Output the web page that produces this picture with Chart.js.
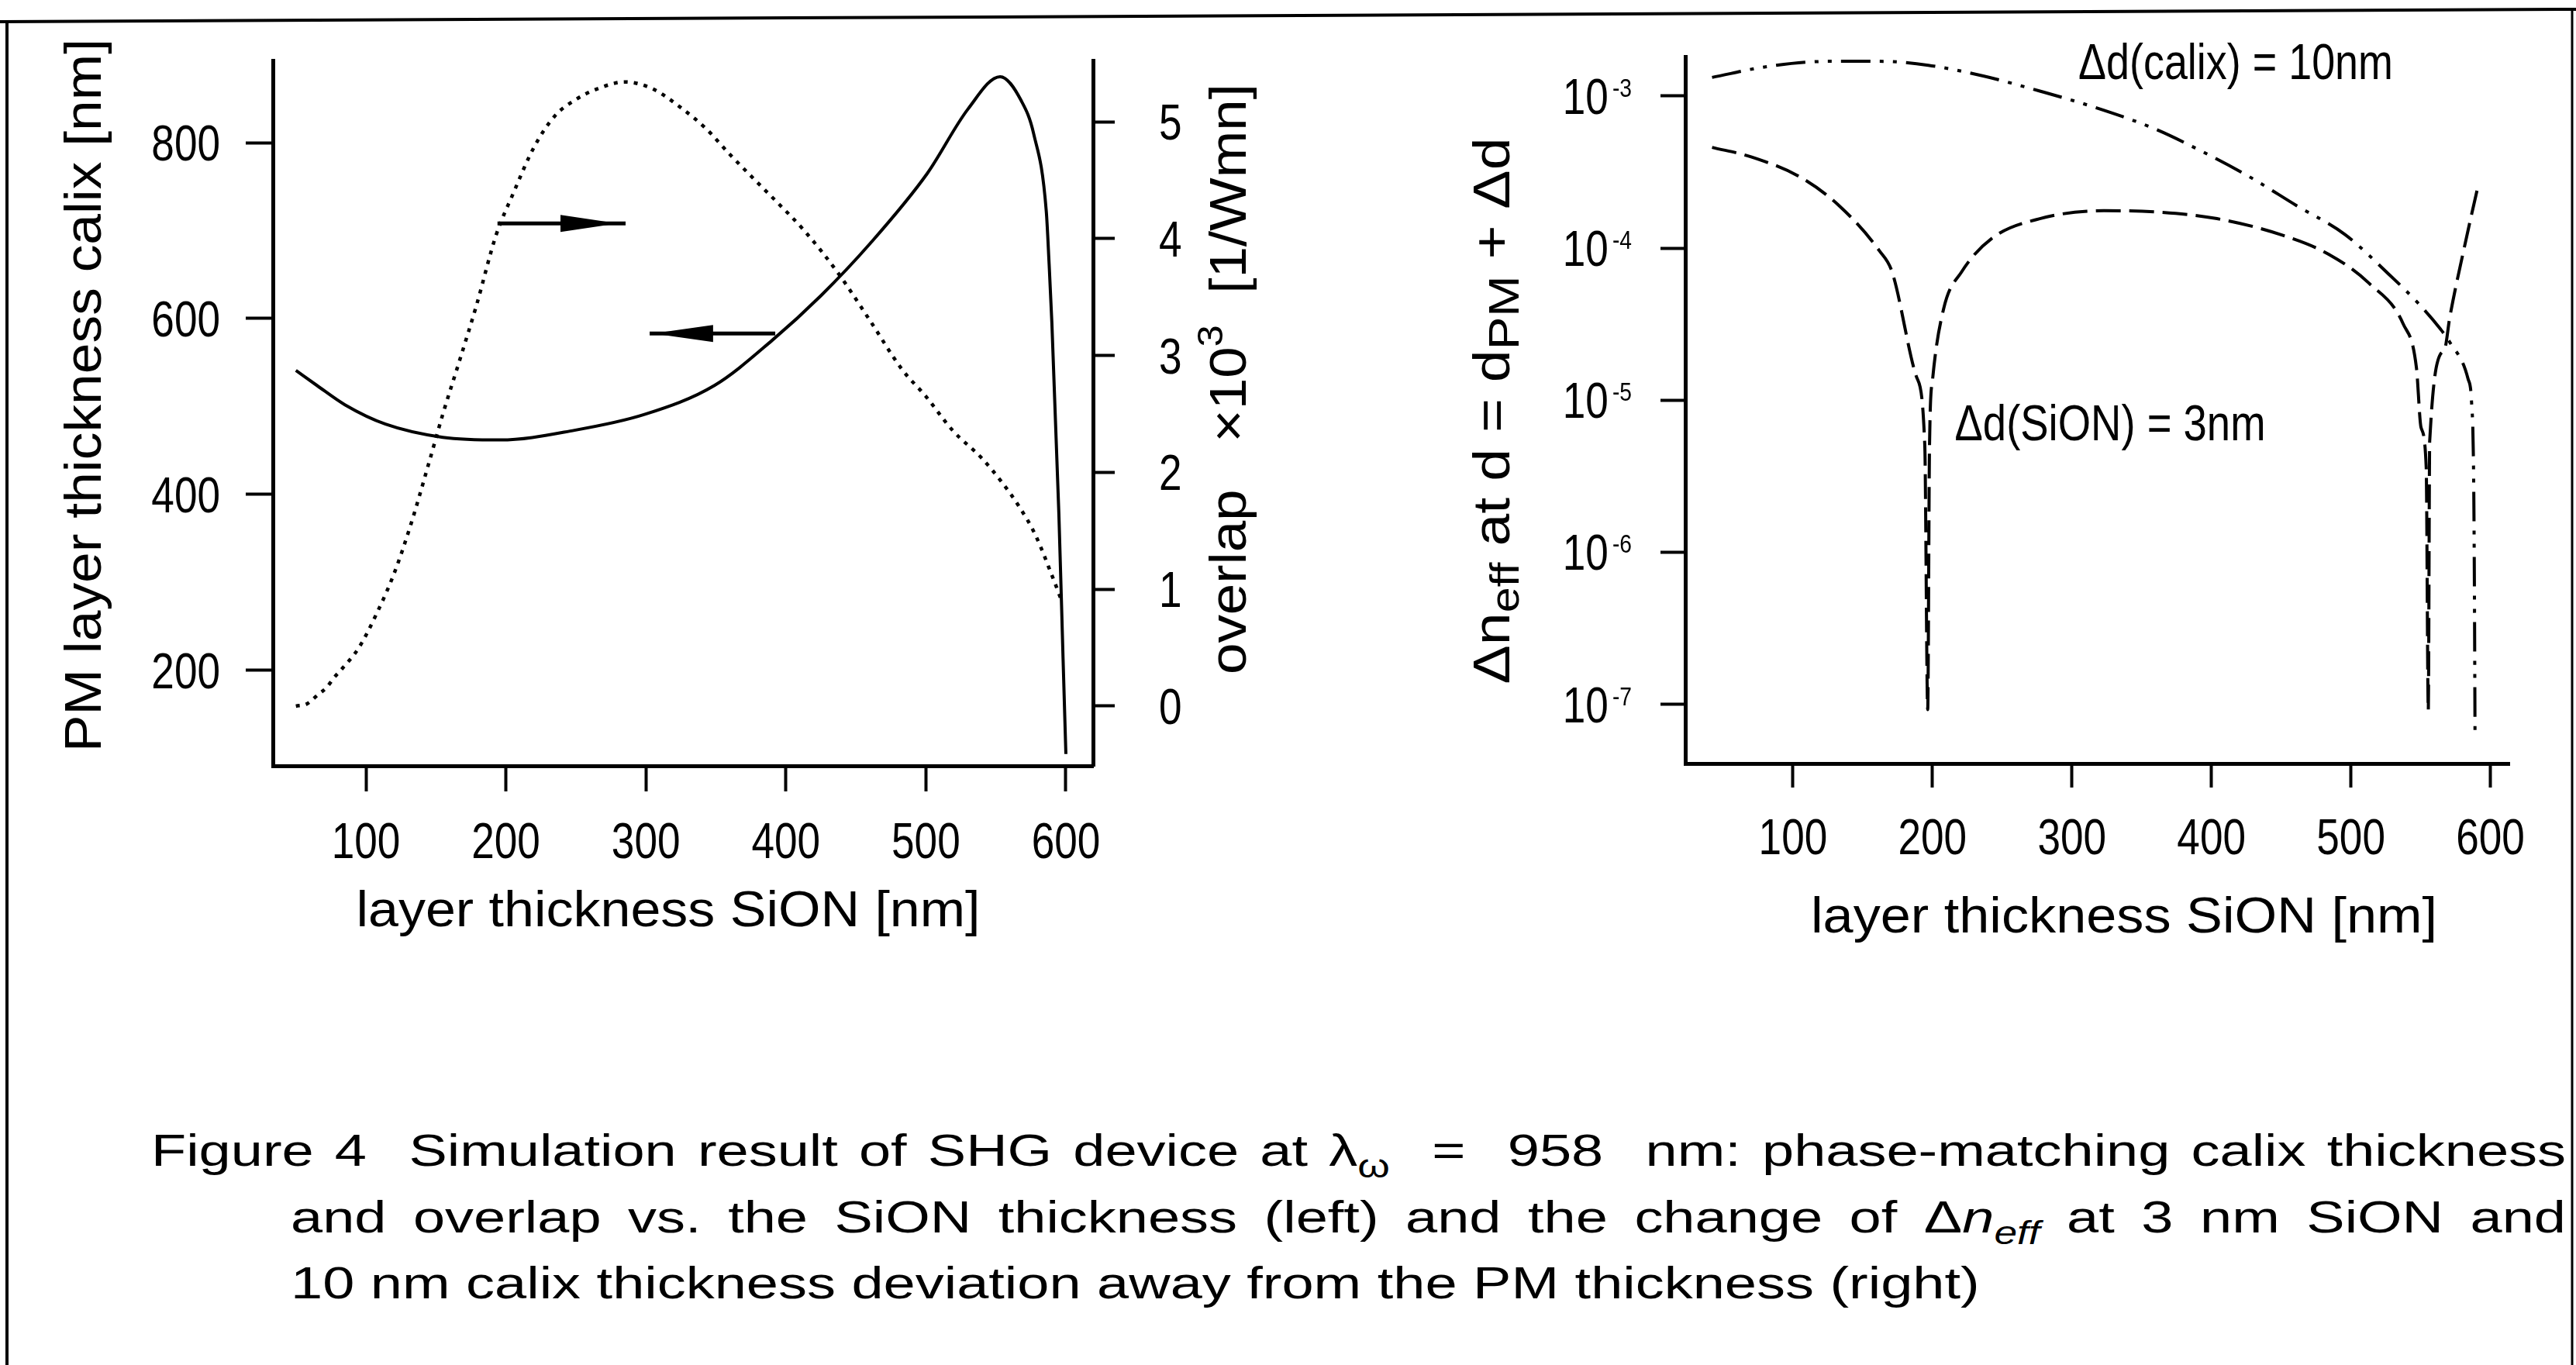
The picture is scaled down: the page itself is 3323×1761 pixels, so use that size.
<!DOCTYPE html>
<html>
<head>
<meta charset="utf-8">
<script src="https://cdn.jsdelivr.net/npm/chart.js@4.4.1/dist/chart.umd.min.js"></script>
<style>
  html, body { margin: 0; padding: 0; background: #fff; }
  #page { position: relative; width: 3323px; height: 1761px; overflow: hidden; background: #fff; }
  #frame { position: absolute; left: 0; top: 0; }
  #leftChart { position: absolute; left: 0; top: 0; }
  #rightChart { position: absolute; left: 1700px; top: 0; }
  .cap {
    position: absolute; white-space: pre; transform-origin: 0 0; color: #000;
    font-family: 'Liberation Sans Narrow', 'Liberation Sans', Arial, sans-serif;
    font-size: 58px; line-height: 58px;
  }
  .cap sub { font-size: 0.72em; vertical-align: -0.35em; line-height: 0; }
</style>
</head>
<body>
<div id="page">
  <svg id="frame" width="3323" height="1761">
    <line x1="0" y1="28" x2="3323" y2="12" stroke="#000" stroke-width="4"/>
    <line x1="9" y1="26" x2="9" y2="1761" stroke="#000" stroke-width="4"/>
    <line x1="3318" y1="12" x2="3318" y2="1761" stroke="#000" stroke-width="3"/>
  </svg>
  <canvas id="leftChart" width="1700" height="1300"></canvas>
  <canvas id="rightChart" width="1623" height="1300"></canvas>

  <div class="cap" data-w="3115" style="left:195px; top:1455px;">Figure 4  Simulation result of SHG device at λ<sub>ω</sub>  =  958  nm: phase-matching calix thickness</div>
  <div class="cap" data-w="2935" style="left:375px; top:1541px;">and overlap vs. the SiON thickness (left) and the change of Δ<i>n<sub>eff</sub></i> at 3 nm SiON and</div>
  <div class="cap" style="left:375px; top:1626px;">10 nm calix thickness deviation away from the PM thickness (right)</div>
</div>

<script>
const FONT = "'Liberation Sans Narrow', 'Liberation Sans', Arial, sans-serif";
const SQUEEZE = 0.83;

// left panel: phase-matching calix thickness (left axis) and overlap (right axis)
const calixX = [50, 65, 85, 114, 155, 196, 249, 299, 349, 390, 425, 460, 501, 530, 553, 568, 577, 586, 588, 590, 595, 598, 600];
const calixPM = [541, 524, 502, 480, 465, 462, 473, 491, 524, 575, 626, 685, 765, 838, 875, 848, 810, 722, 663, 595, 378, 213, 105];

const overlapX = [50, 58, 66, 72, 77, 83, 95, 108, 120, 132, 145, 155, 167, 179, 193, 205, 220, 235, 250, 265, 285, 305, 325, 343, 360, 378, 393, 413, 437, 460, 483, 500, 519, 540, 554, 567, 578, 590, 597];
const overlap = [0.0, 0.02, 0.10, 0.16, 0.24, 0.32, 0.50, 0.80, 1.13, 1.55, 2.08, 2.50, 2.96, 3.43, 4.03, 4.38, 4.78, 5.05, 5.19, 5.28, 5.34, 5.28, 5.12, 4.94, 4.72, 4.50, 4.32, 4.07, 3.71, 3.30, 2.88, 2.65, 2.36, 2.12, 1.92, 1.70, 1.47, 1.12, 0.90];

const leftXTicks = [100, 200, 300, 400, 500, 600];
const calixTicks = [200, 400, 600, 800];
const overlapTicks = [0, 1, 2, 3, 4, 5];

// arrows pointing at the axis each curve belongs to (data units)
const arrows = [
  { axis: 'y2', y: 4.13, from: 194, to: 285.5, headBase: 239, headTip: 280 },
  { axis: 'y', y: 583, from: 392.4, to: 302.7, headBase: 348, headTip: 305 }
];

// right panel: log10 of delta n_eff
const calixDX = [42, 82, 127, 162, 197, 237, 277, 312, 358, 392, 427, 461, 496, 527, 548, 564, 571, 584, 586.5, 588, 588.6, 589];
const calixDLog = [-2.877, -2.805, -2.771, -2.771, -2.797, -2.869, -2.967, -3.061, -3.21, -3.358, -3.529, -3.72, -3.912, -4.17, -4.36, -4.53, -4.62, -4.86, -5.01, -5.5, -6.3, -7.21];

const sionX = [42, 70, 104.5, 133, 162, 171, 188.4, 194.5, 196.6, 197.9, 200.1, 208, 221, 243, 277, 323, 363, 404, 450, 484, 513, 537.6, 547, 550.3, 554, 555.5, 556.5, 567, 571, 583.6, 590.6];
const sionLog = [-3.337, -3.40, -3.529, -3.72, -4.018, -4.155, -4.843, -5.295, -7.036, -5.295, -4.864, -4.40, -4.155, -3.933, -3.806, -3.754, -3.763, -3.806, -3.912, -4.04, -4.231, -4.50, -4.787, -5.18, -5.44, -7.04, -5.27, -4.67, -4.45, -3.90, -3.614];

const rightXTicks = [100, 200, 300, 400, 500, 600];
const decadeTicks = [-7, -6, -5, -4, -3];

function pts(xs, ys) { return xs.map((x, i) => ({ x: x, y: ys[i] })); }

// draw a run of text parts squeezed to a given length, centred on (x, y) baseline
function drawFit(ctx, parts, x, y, width, rot) {
  ctx.save();
  let total = 0;
  parts.forEach(p => {
    ctx.font = (p.italic ? 'italic ' : '') + p.size + 'px ' + FONT;
    p.w = ctx.measureText(p.t).width;
    total += p.w;
  });
  ctx.translate(x, y);
  ctx.rotate(rot || 0);
  ctx.scale(width / total, 1);
  ctx.fillStyle = '#000';
  ctx.textBaseline = 'alphabetic';
  ctx.textAlign = 'left';
  let cx = -total / 2;
  parts.forEach(p => {
    ctx.font = (p.italic ? 'italic ' : '') + p.size + 'px ' + FONT;
    ctx.fillText(p.t, cx, p.dy || 0);
    cx += p.w;
  });
  ctx.restore();
}

// narrow tick label, (x, y) = anchor on the baseline
function tickText(ctx, text, x, y, align, size) {
  ctx.save();
  ctx.translate(x, y);
  ctx.scale(SQUEEZE, 1);
  ctx.font = size + 'px ' + FONT;
  ctx.textAlign = align;
  ctx.textBaseline = 'alphabetic';
  ctx.fillStyle = '#000';
  ctx.fillText(text, 0, 0);
  ctx.restore();
}

function tickSetter(list) {
  return function (scale) { scale.ticks = list.map(v => ({ value: v })); };
}

function axisOpts(tickLen, extra) {
  const o = {
    grid: { display: true, drawOnChartArea: false, drawTicks: true, tickLength: tickLen, tickWidth: 4, tickColor: '#000' },
    border: { display: true, color: '#000', width: 5 },
    ticks: { display: false }
  };
  return Object.assign(o, extra);
}

const leftPlugin = {
  id: 'leftDecor',
  afterDatasetsDraw(chart) {
    const ctx = chart.ctx;
    const xs = chart.scales.x;
    ctx.save();
    ctx.strokeStyle = '#000';
    ctx.fillStyle = '#000';
    ctx.lineWidth = 5;
    arrows.forEach(a => {
      const py = chart.scales[a.axis].getPixelForValue(a.y);
      const x1 = xs.getPixelForValue(a.from), x2 = xs.getPixelForValue(a.to);
      ctx.beginPath(); ctx.moveTo(x1, py); ctx.lineTo(x2, py); ctx.stroke();
      const hb = xs.getPixelForValue(a.headBase), ht = xs.getPixelForValue(a.headTip);
      ctx.beginPath(); ctx.moveTo(hb, py - 11); ctx.lineTo(ht, py); ctx.lineTo(hb, py + 11); ctx.closePath(); ctx.fill();
    });
    ctx.restore();
  },
  afterDraw(chart) {
    const ctx = chart.ctx;
    const s = chart.scales;
    leftXTicks.forEach(v => tickText(ctx, String(v), s.x.getPixelForValue(v), 1107, 'center', 64));
    calixTicks.forEach(v => tickText(ctx, String(v), 284, s.y.getPixelForValue(v) + 23, 'right', 64));
    overlapTicks.forEach(v => tickText(ctx, String(v), 1495, s.y2.getPixelForValue(v) + 23, 'left', 64));
    drawFit(ctx, [{ t: 'PM layer thickness calix [nm]', size: 66 }], 130, 510, 920, -Math.PI / 2);
    drawFit(ctx, [{ t: 'overlap', size: 66 }, { t: '   \u00d710', size: 66 }, { t: '3', size: 46, dy: -30 }, { t: '  [1/Wmn]', size: 66 }], 1607, 489, 762, -Math.PI / 2);
    drawFit(ctx, [{ t: 'layer thickness SiON [nm]', size: 64 }], 862, 1195, 805, 0);
  }
};

new Chart(document.getElementById('leftChart'), {
  type: 'line',
  data: {
    datasets: [
      { data: pts(calixX, calixPM), yAxisID: 'y', borderColor: '#000', borderWidth: 4, pointRadius: 0, cubicInterpolationMode: 'monotone', fill: false },
      { data: pts(overlapX, overlap), yAxisID: 'y2', borderColor: '#000', borderWidth: 4.5, borderDash: [5, 8], borderCapStyle: 'butt', pointRadius: 0, cubicInterpolationMode: 'monotone', fill: false }
    ]
  },
  options: {
    responsive: false, animation: false, devicePixelRatio: 1,
    layout: { padding: { top: 78, left: 0, right: 0, bottom: 0 } },
    plugins: { legend: { display: false }, tooltip: { enabled: false } },
    scales: {
      x: axisOpts(33, { type: 'linear', position: 'bottom', min: 33.55, max: 619.4,
        afterFit: s => { s.height = 312; }, afterBuildTicks: tickSetter(leftXTicks) }),
      y: axisOpts(35, { type: 'linear', position: 'left', min: 91.6, max: 893.4,
        afterFit: s => { s.width = 352; }, afterBuildTicks: tickSetter(calixTicks) }),
      y2: axisOpts(28, { type: 'linear', position: 'right', min: -0.511, max: 5.524,
        afterFit: s => { s.width = 290; }, afterBuildTicks: tickSetter(overlapTicks) })
    }
  },
  plugins: [leftPlugin]
});

const rightPlugin = {
  id: 'rightDecor',
  afterDraw(chart) {
    const ctx = chart.ctx;
    const s = chart.scales;
    rightXTicks.forEach(v => tickText(ctx, String(v), s.x.getPixelForValue(v), 1102, 'center', 64));
    decadeTicks.forEach(e => {
      const py = s.y.getPixelForValue(Math.pow(10, e));
      const sup = '-' + Math.abs(e);
      ctx.font = '34px ' + FONT;
      const ws = ctx.measureText(sup).width * SQUEEZE;
      tickText(ctx, sup, 405 - ws, py + 1, 'left', 34);
      tickText(ctx, '10', 405 - ws - 5, py + 23, 'right', 64);
    });
    drawFit(ctx, [{ t: '\u0394n', size: 66 }, { t: 'eff', size: 52, dy: 12 }, { t: ' at d = d', size: 66 }, { t: 'PM', size: 56, dy: 12 }, { t: ' + \u0394d', size: 66 }], 247, 530, 705, -Math.PI / 2);
    drawFit(ctx, [{ t: 'layer thickness SiON [nm]', size: 64 }], 1040, 1203, 808, 0);
    drawFit(ctx, [{ t: '\u0394d(calix) = 10nm', size: 64 }], 1184, 102, 406, 0);
    drawFit(ctx, [{ t: '\u0394d(SiON) = 3nm', size: 64 }], 1022, 568, 401, 0);
  }
};

new Chart(document.getElementById('rightChart'), {
  type: 'line',
  data: {
    datasets: [
      { data: pts(calixDX, calixDLog.map(v => Math.pow(10, v))), borderColor: '#000', borderWidth: 4, borderDash: [38, 12, 5, 12, 5, 12], borderCapStyle: 'butt', pointRadius: 0, cubicInterpolationMode: 'monotone', fill: false },
      { data: pts(sionX, sionLog.map(v => Math.pow(10, v))), borderColor: '#000', borderWidth: 4, borderDash: [32, 11], borderCapStyle: 'butt', pointRadius: 0, cubicInterpolationMode: 'monotone', fill: false }
    ]
  },
  options: {
    responsive: false, animation: false, devicePixelRatio: 1,
    layout: { padding: { top: 73, left: 0, right: 86, bottom: 0 } },
    plugins: { legend: { display: false }, tooltip: { enabled: false } },
    scales: {
      x: axisOpts(31, { type: 'linear', position: 'bottom', min: 22.8, max: 613.6,
        afterFit: s => { s.height = 315; }, afterBuildTicks: tickSetter(rightXTicks) }),
      y: axisOpts(32, { type: 'logarithmic', position: 'left', min: Math.pow(10, -7.39), max: Math.pow(10, -2.74),
        afterFit: s => { s.width = 474; }, afterBuildTicks: s => { s.ticks = decadeTicks.map(e => ({ value: Math.pow(10, e) })); } })
    }
  },
  plugins: [rightPlugin]
});

// caption: one glyph scale for all lines, the first two justified to the right margin
const caps = Array.from(document.querySelectorAll('.cap'));
const spacesIn = el => (el.textContent.match(/ /g) || []).length;
const ref = caps[1];
const capScale = (parseFloat(ref.dataset.w) - spacesIn(ref) * 14) / ref.getBoundingClientRect().width;
caps.forEach(el => {
  if (el.dataset.w) {
    const need = parseFloat(el.dataset.w) / capScale;
    const w = el.getBoundingClientRect().width;
    el.style.wordSpacing = ((need - w) / spacesIn(el)) + 'px';
  }
  el.style.transform = 'scaleX(' + capScale + ')';
});
</script>
</body>
</html>
